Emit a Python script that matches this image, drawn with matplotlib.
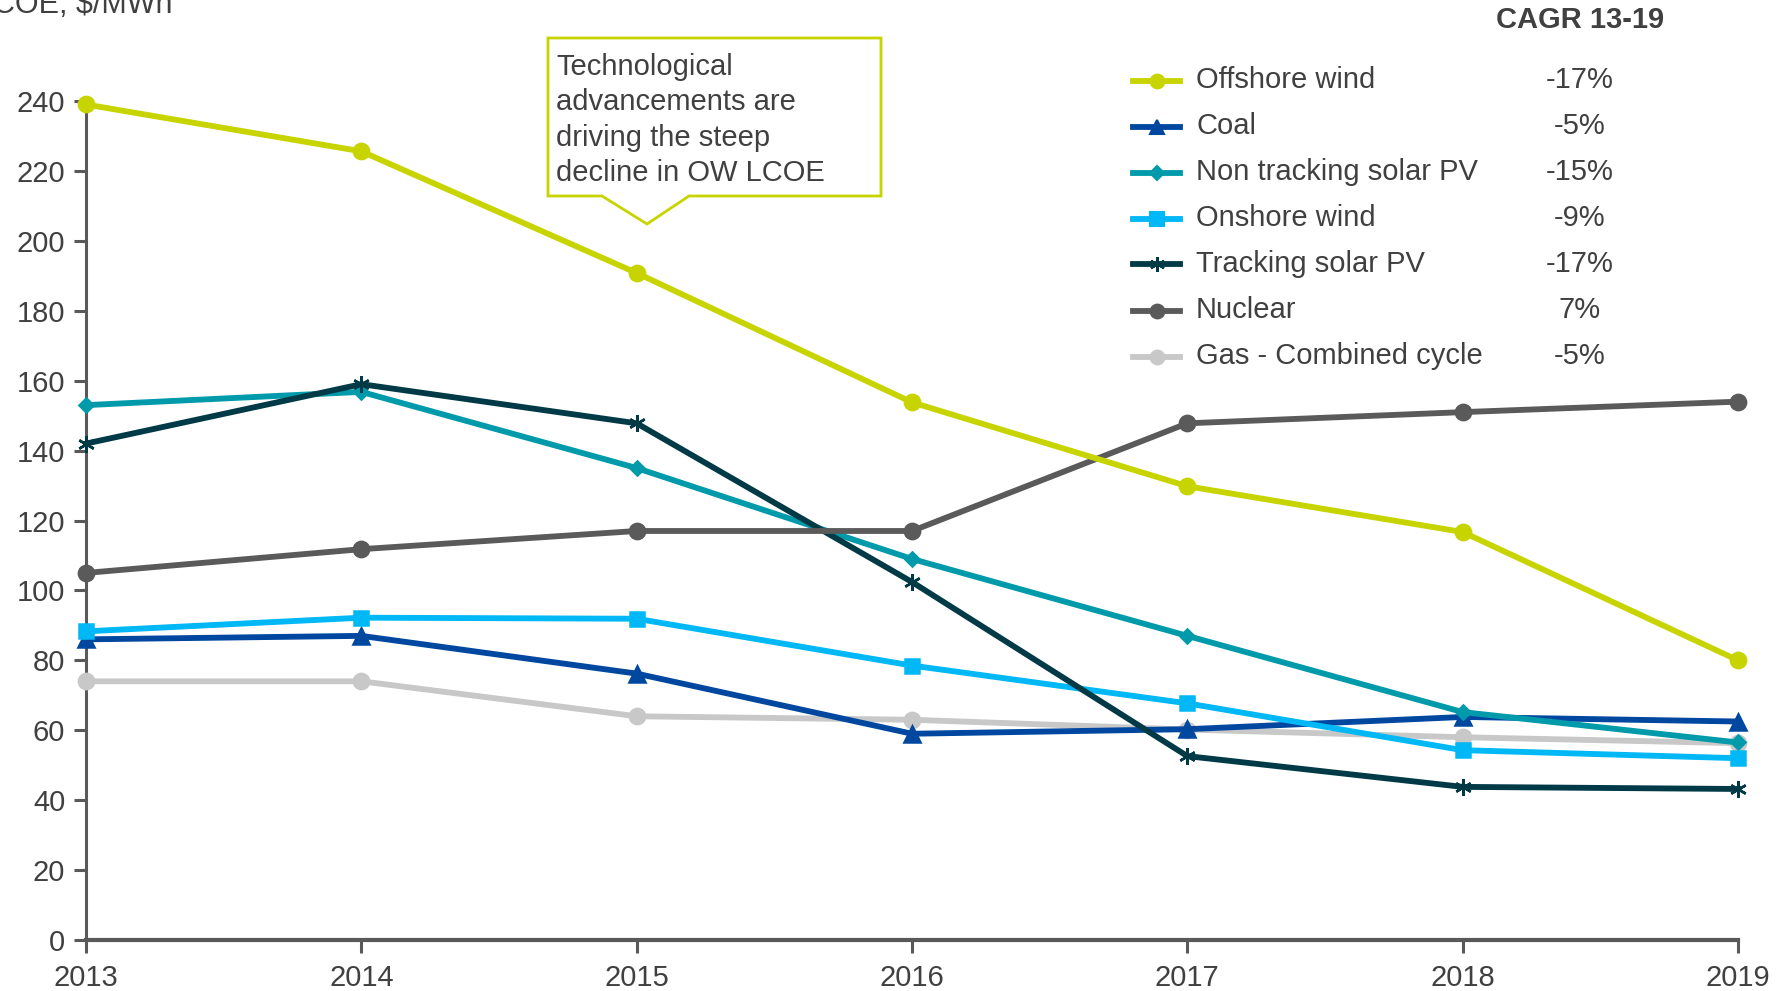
import matplotlib
matplotlib.use("Agg")
import matplotlib.pyplot as plt
from matplotlib.lines import Line2D
from matplotlib.patches import Polygon

years = [2013, 2014, 2015, 2016, 2017, 2018, 2019]

offshore_wind = [239, 225.6, 190.8, 153.8, 129.8, 116.7, 80.0]
coal = [86.0, 87.0, 76.2, 59.0, 60.3, 63.8, 62.5]
non_tracking_pv = [153.0, 156.8, 135.0, 109.0, 87.0, 65.2, 56.5]
onshore_wind = [88.3, 92.2, 91.9, 78.5, 67.7, 54.3, 52.0]
tracking_pv = [142.0, 159.0, 147.8, 102.4, 52.6, 43.8, 43.2]
nuclear = [105.0, 111.8, 117.0, 117.0, 147.8, 151.0, 154.0]
gas_cc = [74.0, 74.0, 64.0, 63.0, 60.2, 58.0, 56.3]

series_names = ["Offshore wind", "Coal", "Non tracking solar PV", "Onshore wind",
                "Tracking solar PV", "Nuclear", "Gas - Combined cycle"]
cagr_labels = ["-17%", "-5%", "-15%", "-9%", "-17%", "7%", "-5%"]
y_ticks = [0, 20, 40, 60, 80, 100, 120, 140, 160, 180, 200, 220, 240]

series = [offshore_wind, coal, non_tracking_pv, onshore_wind, tracking_pv, nuclear, gas_cc]
colors = ["#C8D400", "#0047A0", "#009AAA", "#00B8F5", "#003A47", "#5A5A5A", "#C8C8C8"]
markers = ["o", "^", "D", "s", (6, 2, 0), "o", "o"]
msizes = [11, 11, 7.5, 10.5, 12, 11, 11]
zorders = [9, 4, 5, 6, 7, 8, 3]

TXT = "#404040"
SPINE = "#595959"

plt.rcParams["font.family"] = ["Liberation Sans", "DejaVu Sans"]

W, H = 1791, 991
fig = plt.figure(figsize=(W / 100, H / 100), dpi=100)
ax = fig.add_axes([86 / W, 1 - 940 / H, (1738 - 86) / W, (940 - 101) / H])

for vals, c, m, ms, z in zip(series, colors, markers, msizes, zorders):
    ax.plot(years, vals, color=c, lw=4.2, marker=m, ms=ms, mew=1.8,
            mec=c, mfc=c, zorder=z, clip_on=False, solid_joinstyle="round")

ax.set_xlim(2013, 2019)
ax.set_ylim(0, 240)
ax.set_xticks(years)
ax.set_yticks(y_ticks)
ax.tick_params(axis="both", colors=SPINE, labelcolor=TXT, labelsize=21,
               width=2.2, length=9, direction="out")
ax.tick_params(axis="x", pad=8)
ax.tick_params(axis="y", pad=6)
for s in ["top", "right"]:
    ax.spines[s].set_visible(False)
ax.spines["left"].set_color(SPINE)
ax.spines["left"].set_linewidth(2.2)
ax.spines["bottom"].set_color(SPINE)
ax.spines["bottom"].set_linewidth(3)

# y-axis title, partly cut at the top-left like the source
fig.text(173 / W, 1 - 13 / H, "LCOE, $/MWh", fontsize=22, color=TXT, ha="right", va="baseline")

# manual legend with CAGR column
fig.text(1580 / W, 1 - 20 / H, "CAGR 13-19", fontsize=21, fontweight="bold",
         color=TXT, ha="center", va="center")
row0, dy = 80.5, 46
for i, (name, cg, c, m, ms) in enumerate(zip(series_names, cagr_labels, colors, markers, msizes)):
    yf = 1 - (row0 + i * dy) / H
    fig.add_artist(Line2D([1133 / W, 1180 / W], [yf, yf], color=c, lw=4.2))
    fig.add_artist(Line2D([1156.5 / W], [yf], color=c, marker=m, ms=ms * 0.9,
                          mfc=c, mec=c, mew=1.5))
    fig.text(1196 / W, yf, name, fontsize=21, color=TXT, ha="left", va="center")
    fig.text(1580 / W, yf, cg, fontsize=21, color=TXT, ha="center", va="center")

# callout box
box = [(548, 38), (881, 38), (881, 196), (689, 196), (647, 224), (602, 196), (548, 196)]
fig.add_artist(Polygon([(x / W, 1 - y / H) for x, y in box], closed=True,
                       transform=fig.transFigure, fc="white", ec="#C8D400", lw=2, zorder=10))
fig.text(556 / W, 1 - 53 / H,
         "Technological\nadvancements are\ndriving the steep\ndecline in OW LCOE",
         fontsize=21, color=TXT, ha="left", va="top", linespacing=1.33, zorder=11)

fig.savefig("out.png", dpi=100)
